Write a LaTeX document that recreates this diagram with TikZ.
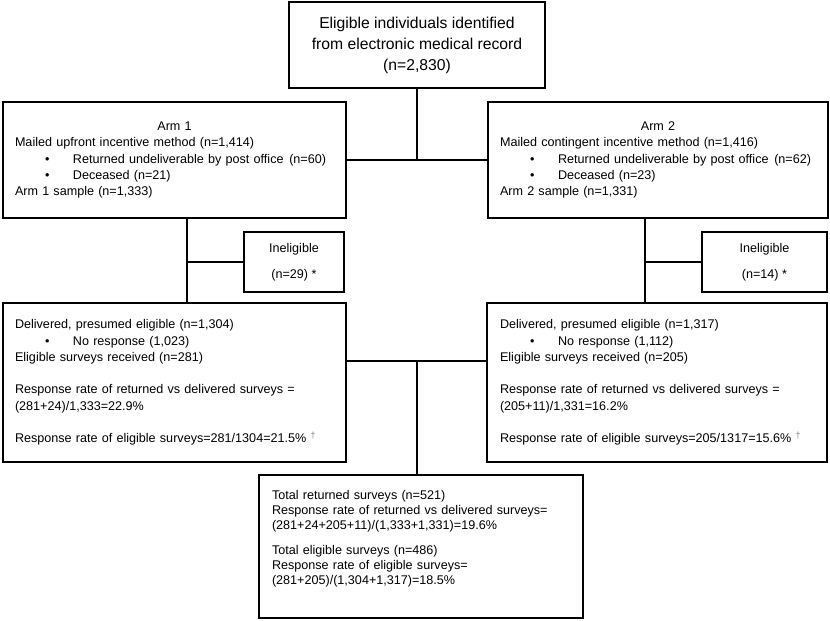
\documentclass[tikz,border=0pt]{standalone}
\usepackage{fontspec}
\setmainfont{Liberation Sans}
\usepackage{xcolor}
\newcommand{\bul}[1]{%
\hspace*{30pt}\makebox[28pt][l]{\textbullet}#1%
}
\newcommand{\dg}{%
\textcolor{gray}{\textsuperscript{\dag}}%
}
\tikzset {
  x=1pt, y=-1pt,
  % plain box of the chart
  box/.style = {draw, rectangle, line width=1.6pt, inner sep=0pt,
    font=\fontsize{12.6}{16.3}\selectfont},
  % box with left aligned text
  lbox/.style = {box, align=left, inner xsep=12pt},
  % lines between the boxes
  link/.style = {line width=1.1pt},
}

\begin{document}
\begin{tikzpicture}
        \useasboundingbox (0,0) rectangle (830,621);

        \node[box, align=center, minimum width=256pt, minimum height=86pt,
          font=\fontsize{15.7}{21}\selectfont] (top) at (417,45)
          {Eligible individuals identified\\from electronic medical record\\(n=2,830)};

        \node[lbox, text width=319pt, minimum height=116pt] (arm1) at (174.5,160)
          {\makebox[\linewidth][c]{Arm 1}\\
           Mailed upfront incentive method (n=1,414)\\
           \bul{Returned undeliverable by post office\hspace{1.5pt} (n=60)}\\
           \bul{Deceased (n=21)}\\
           Arm 1 sample (n=1,333)};
        \node[lbox, text width=316pt, minimum height=116pt] (arm2) at (658,160)
          {\makebox[\linewidth][c]{Arm 2}\\
           Mailed contingent incentive method (n=1,416)\\
           \bul{Returned undeliverable by post office\hspace{1.5pt} (n=62)}\\
           \bul{Deceased (n=23)}\\
           Arm 2 sample (n=1,331)};

        \node[box, align=center, minimum width=100pt, minimum height=60pt] (inel1) at (294,262)
          {Ineligible\\[9.7pt](n=29) *};
        \node[box, align=center, minimum width=125pt, minimum height=60pt] (inel2) at (764.5,262)
          {Ineligible\\[9.7pt](n=14) *};

        \node[lbox, text width=319pt, minimum height=159pt] (del1) at (174.5,382.5)
          {Delivered, presumed eligible (n=1,304)\\
           \bul{No response (1,023)}\\
           Eligible surveys received (n=281)\\[16.3pt]
           Response rate of returned vs delivered surveys =\\
           (281+24)/1,333=22.9\%\\[16.3pt]
           Response rate of eligible surveys=281/1304=21.5\% \dg};
        \node[lbox, inner xsep=13pt, text width=314pt, minimum height=159pt] (del2) at (657,382.5)
          {Delivered, presumed eligible (n=1,317)\\
           \bul{No response (1,112)}\\
           Eligible surveys received (n=205)\\[16.3pt]
           Response rate of returned vs delivered surveys =\\
           (205+11)/1,331=16.2\%\\[16.3pt]
           Response rate of eligible surveys=205/1317=15.6\% \dg};

        \node[lbox, inner xsep=13pt, text width=298pt, minimum height=143pt,
          font=\fontsize{12.6}{15}\selectfont] (total) at (421,546.5)
          {Total returned surveys (n=521)\\
           Response rate of returned vs delivered surveys=\\
           (281+24+205+11)/(1,333+1,331)=19.6\%\\[10pt]
           Total eligible surveys (n=486)\\
           Response rate of eligible surveys=\\
           (281+205)/(1,304+1,317)=18.5\%\rule[-18pt]{0pt}{18pt}};

        % top box down to the two arms
        \draw[link] (top.south) -- (top.south |- arm1.east);
        \draw[link] (arm1.east) -- (arm2.west);

        % arm 1 branch
        \coordinate (v1) at ([xshift=12.5pt]arm1.south);
        \draw[link] (v1) -- (v1 |- del1.north);
        \draw[link] (inel1.west) -- (inel1.west -| v1);

        % arm 2 branch
        \coordinate (v2) at ([xshift=-13pt]arm2.south);
        \draw[link] (v2) -- (v2 |- del2.north);
        \draw[link] (inel2.west) -- (inel2.west -| v2);

        % both arms into the total
        \coordinate (j) at ([yshift=21.5pt]del1.east);
        \draw[link] (j) -- (j -| del2.west);
        \coordinate (m) at (j -| top.south);
        \draw[link] (m) -- (m |- total.north);
      \end{tikzpicture}
\end{document}
